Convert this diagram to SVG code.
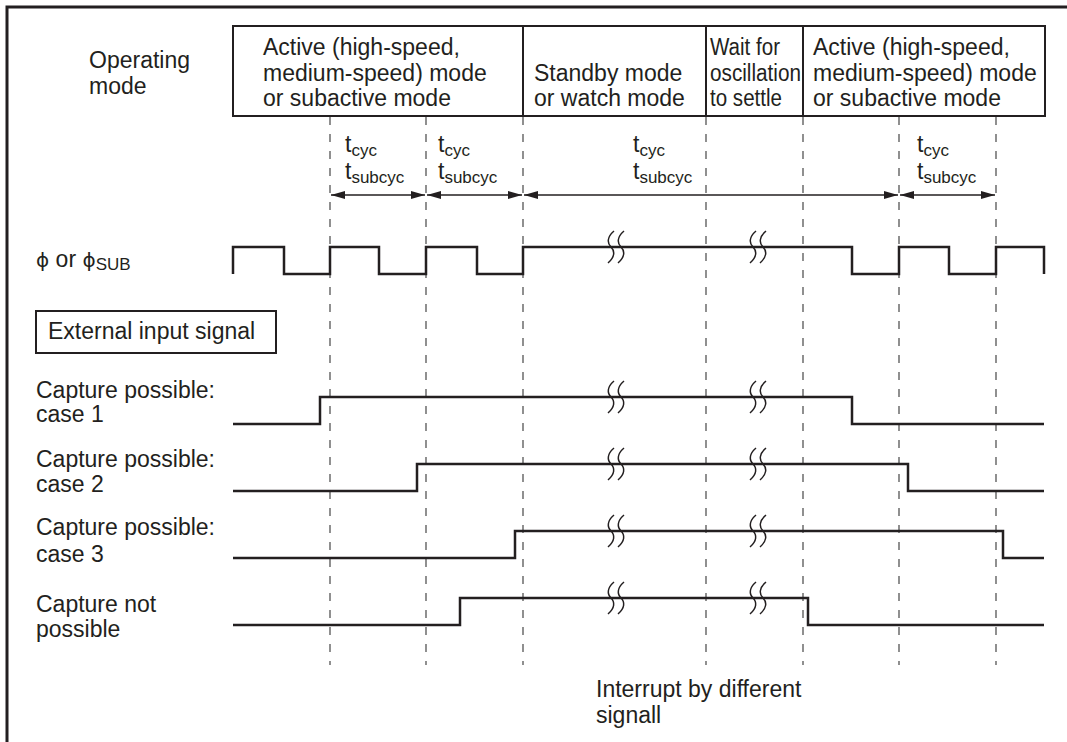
<svg xmlns="http://www.w3.org/2000/svg" width="1067" height="742" viewBox="0 0 1067 742">
<style>
text{font-family:"Liberation Sans",Arial,"DejaVu Sans",sans-serif;font-size:23px;fill:#231f20}
.sub{font-size:17px}
.phi{font-family:"DejaVu Sans","Liberation Sans",sans-serif;font-size:20px}
.frame{fill:none;stroke:#231f20;stroke-width:3}
.box{fill:#fff;stroke:#231f20;stroke-width:2}
.sig{fill:none;stroke:#231f20;stroke-width:2.5;stroke-linejoin:miter}
.dash{fill:none;stroke:#555;stroke-width:1.3;stroke-dasharray:8 9}
.arr{fill:none;stroke:#231f20;stroke-width:1.5}
.brk{fill:none;stroke:#231f20;stroke-width:1.5}
</style>
<defs>
<marker id="ah" viewBox="0 0 14 8" refX="14" refY="4" markerWidth="14" markerHeight="8" markerUnits="userSpaceOnUse" orient="auto-start-reverse">
<path d="M0,0 L14,4 L0,8 z" fill="#231f20"/>
</marker>
<path id="brk" d="M3,-16 C-4,-10 -4,-4 0,0 C4,4 4,10 -3,16"/>
</defs>
<rect width="1067" height="742" fill="#fff"/>
<path class="frame" d="M7,742 V7 H1067"/>

<g id="labels">
<text x="89" y="68">Operating</text>
<text x="89" y="94">mode</text>
<text x="36" y="267"><tspan class="phi">ϕ</tspan> or <tspan class="phi">ϕ</tspan><tspan class="sub" dy="3">SUB</tspan></text>
<text x="36" y="398">Capture possible:</text>
<text x="36" y="422">case 1</text>
<text x="36" y="467">Capture possible:</text>
<text x="36" y="492">case 2</text>
<text x="36" y="535">Capture possible:</text>
<text x="36" y="562">case 3</text>
<text x="36" y="612">Capture not</text>
<text x="36" y="637">possible</text>
<text x="596" y="697">Interrupt by different</text>
<text x="596" y="723">signall</text>
</g>

<g id="ext-input">
<rect class="box" x="36" y="311" width="240" height="42"/>
<text x="48" y="339">External input signal</text>
</g>

<g id="mode-active1">
<rect class="box" x="233" y="26" width="290" height="90"/>
<text x="263" y="55">Active (high-speed,</text>
<text x="263" y="81">medium-speed) mode</text>
<text x="263" y="106">or subactive mode</text>
</g>
<g id="mode-standby">
<rect class="box" x="523" y="26" width="183" height="90"/>
<text x="534" y="81">Standby mode</text>
<text x="534" y="106">or watch mode</text>
</g>
<g id="mode-wait">
<rect class="box" x="706" y="26" width="97" height="90"/>
<text x="710" y="55" textLength="70" lengthAdjust="spacingAndGlyphs">Wait for</text>
<text x="710" y="81" textLength="91" lengthAdjust="spacingAndGlyphs">oscillation</text>
<text x="710" y="106" textLength="72" lengthAdjust="spacingAndGlyphs">to settle</text>
</g>
<g id="mode-active2">
<rect class="box" x="803" y="26" width="242" height="90"/>
<text x="813" y="55">Active (high-speed,</text>
<text x="813" y="81">medium-speed) mode</text>
<text x="813" y="106">or subactive mode</text>
</g>

<g id="period-labels">
<text x="345" y="152">t<tspan class="sub" dy="4">cyc</tspan></text>
<text x="345" y="179">t<tspan class="sub" dy="4">subcyc</tspan></text>
<text x="438" y="152">t<tspan class="sub" dy="4">cyc</tspan></text>
<text x="438" y="179">t<tspan class="sub" dy="4">subcyc</tspan></text>
<text x="633" y="152">t<tspan class="sub" dy="4">cyc</tspan></text>
<text x="633" y="179">t<tspan class="sub" dy="4">subcyc</tspan></text>
<text x="917" y="152">t<tspan class="sub" dy="4">cyc</tspan></text>
<text x="917" y="179">t<tspan class="sub" dy="4">subcyc</tspan></text>
</g>

<g id="connectors">
<g id="guides">
<path class="dash" d="M330,117 V665 M426,117 V665 M523,117 V665 M706,117 V665 M803,117 V665 M899,117 V665 M996,117 V665"/>
</g>
<g id="period-arrows">
<path class="arr" d="M331,195 H425" marker-start="url(#ah)" marker-end="url(#ah)"/>
<path class="arr" d="M427,195 H522" marker-start="url(#ah)" marker-end="url(#ah)"/>
<path class="arr" d="M524,195 H898" marker-start="url(#ah)" marker-end="url(#ah)"/>
<path class="arr" d="M900,195 H995" marker-start="url(#ah)" marker-end="url(#ah)"/>
</g>
<g id="waveforms">
<path class="sig" d="M233,274 V247 H284 V274 H330 V247 H379 V274 H426 V247 H477 V274 H523 V247 H852 V274 H899 V247 H949 V274 H996 V247 H1044 V274"/>
<path class="sig" d="M233,424 H320 V397 H852 V424 H1044"/>
<path class="sig" d="M233,491 H417 V464 H908 V491 H1044"/>
<path class="sig" d="M233,558 H515 V531 H1003 V558 H1044"/>
<path class="sig" d="M233,625 H460 V598 H808 V625 H1044"/>
</g>
<g id="breaks" class="brk">
<use href="#brk" x="611" y="247"/><use href="#brk" x="621" y="247"/><use href="#brk" x="753" y="247"/><use href="#brk" x="763" y="247"/>
<use href="#brk" x="611" y="397"/><use href="#brk" x="621" y="397"/><use href="#brk" x="753" y="397"/><use href="#brk" x="763" y="397"/>
<use href="#brk" x="611" y="464"/><use href="#brk" x="621" y="464"/><use href="#brk" x="753" y="464"/><use href="#brk" x="763" y="464"/>
<use href="#brk" x="611" y="531"/><use href="#brk" x="621" y="531"/><use href="#brk" x="753" y="531"/><use href="#brk" x="763" y="531"/>
<use href="#brk" x="611" y="598"/><use href="#brk" x="621" y="598"/><use href="#brk" x="753" y="598"/><use href="#brk" x="763" y="598"/>
</g>
</g>
</svg>
